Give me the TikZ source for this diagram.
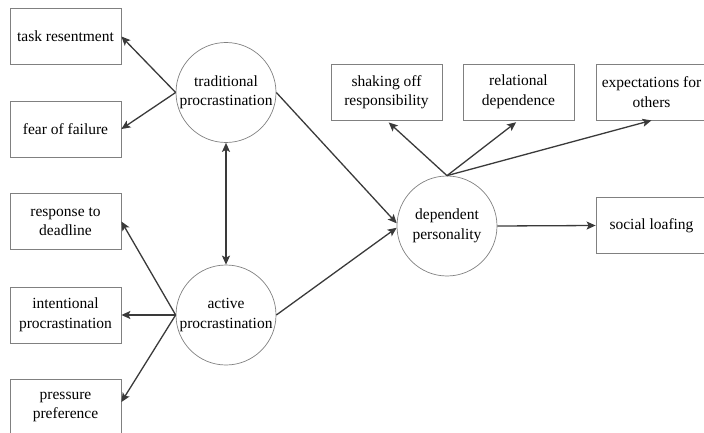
\documentclass[tikz,border=0pt]{standalone}
\usepackage{fontspec}
\setmainfont{Liberation Serif}
\usetikzlibrary{arrows.meta}
\definecolor{linec}{HTML}{3A3A3A}
\definecolor{edgec}{HTML}{808080}
\begin{document}
\begin{tikzpicture}[x=1pt,y=-1pt,
  font=\fontsize{15.5}{19.5}\selectfont,
  box/.style={draw=edgec, line width=0.8pt, rectangle, minimum width=111pt, minimum height=56pt, inner sep=0pt, align=center, text=black},
  latent/.style={draw=edgec, line width=0.7pt, circle, minimum size=100pt, inner sep=0pt, align=center, text=black},
  arr/.style={draw=linec, line width=1.3pt, -{Stealth[length=9pt,width=8pt,inset=2pt]}},
  darr/.style={draw=linec, line width=1.3pt, {Stealth[length=9pt,width=8pt,inset=2pt]}-{Stealth[length=9pt,width=8pt,inset=2pt]}}]
\useasboundingbox (0,0) rectangle (704,433);
\clip (0,0) rectangle (704,433);
% left boxes
\node[box] (tr) at (65.5,36.5) {task resentment};
\node[box] (ff) at (65.5,129) {fear of failure};
\node[box] (rd) at (65.5,221.5) {response to\\deadline};
\node[box] (ip) at (65.5,315) {intentional\\procrastination};
\node[box] (pp) at (65.5,407) {pressure\\preference};
% latent
\node[latent] (trad) at (226,92.5) {traditional\\procrastination};
\node[latent] (act) at (226,315) {active\\procrastination};
\node[latent] (dep) at (447,226) {dependent\\personality};
% right boxes
\node[box] (so) at (386.5,92) {shaking off\\responsibility};
\node[box] (rl) at (518.5,92) {relational\\dependence};
\node[box] (ex) at (651.5,92) {expectations for\\others};
\node[box] (sl) at (651.5,225.5) {social loafing};
% arrows
\draw[arr] (trad.west) -- (tr.east);
\draw[arr] (trad.west) -- (ff.east);
\draw[arr] (act.west) -- (rd.east);
\draw[arr] (act.west) -- (ip.east);
\draw[arr] (act.west) -- ([yshift=5pt]pp.east);
\draw[darr] (trad.south) -- (act.north);
\draw[arr] (trad.east) -- (dep.177);
\draw[arr] (act.east) -- (dep.182);
\draw[arr, shorten >=3pt] (dep.north) -- (so.south);
\draw[arr, shorten >=3pt] (dep.north) -- (rl.south);
\draw[arr] (dep.north) -- (ex.south);
\draw[arr] (dep.east) -- (sl.west);
\end{tikzpicture}
\end{document}
